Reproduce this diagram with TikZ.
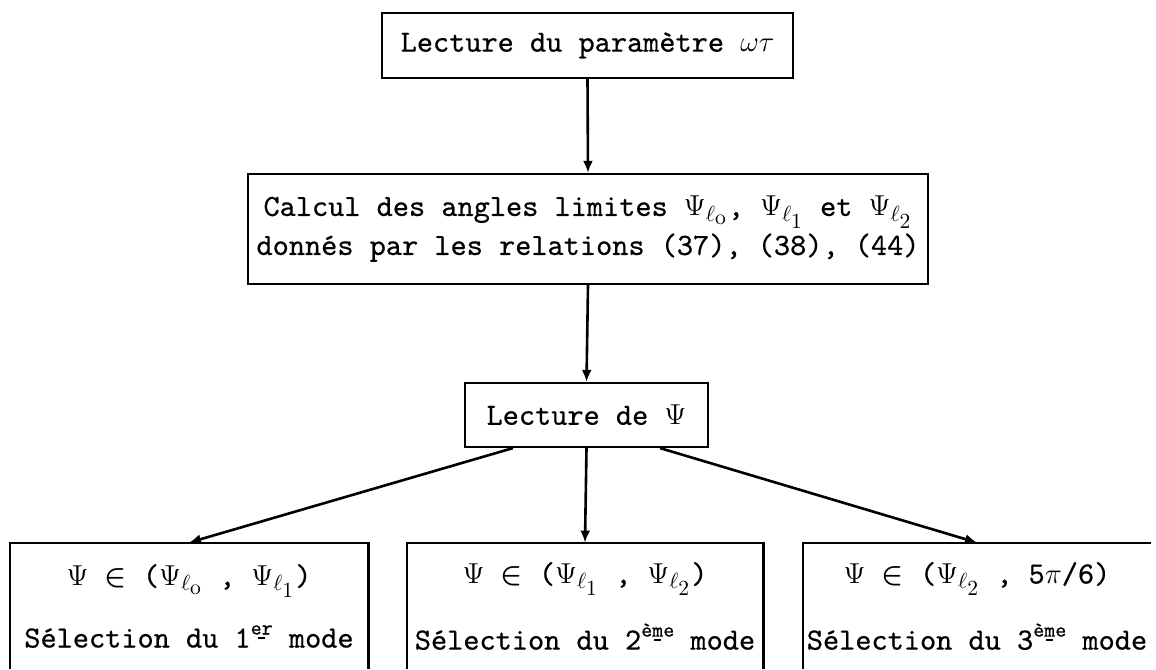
\documentclass[tikz,border=0pt]{standalone}
\usepackage{fontspec}
\setmonofont{lmmono10-regular}[Extension=.otf, FakeBold=0.5]
\usetikzlibrary{arrows.meta,calc}
\newcommand\ordi[1]{\raisebox{6.5pt}{\fontsize{10.5pt}{10.5pt}\selectfont\oalign{#1\cr\hidewidth\rule{3.5pt}{0.8pt}\hidewidth\cr}}}
\newcommand\Pl[1]{$\Psi_{\ell_{\scriptstyle\mathrm{#1}}}$}
\tikzset{
  boxline/.style={line width=1.1pt},
  flowbox/.style={draw, boxline, inner sep=0pt, align=center},
  openbox/.style={inner sep=0pt, align=center, minimum height=63pt},
  flowarrow/.style={line width=1.3pt, -{Latex[length=6pt,width=5pt]}}
}
\begin{document}
\begin{tikzpicture}[x=0.5pt, y=-0.5pt, font=\ttfamily\fontsize{15.4pt}{18pt}\selectfont]
\useasboundingbox (0,0) rectangle (1156,669);
\node[flowbox, minimum width=205.5pt, minimum height=32.5pt] (b1) at (587.5,45.5) {Lecture du paramètre $\omega\tau$};
\node[flowbox, minimum width=340pt, minimum height=55pt, font=\ttfamily\fontsize{15.4pt}{19.5pt}\selectfont] (b2) at (588,229)
  {Calcul des angles limites \Pl{o}, \Pl{1} et \Pl{2}\\donnés par les relations (37), (38), (44)};
\node[flowbox, minimum width=121.5pt, minimum height=32pt] (b3) at (586.5,415) {Lecture de $\Psi$};
\node[openbox, minimum width=179pt] (b4) at (189,606)
  {$\Psi$ {\boldmath$\in$} (\Pl{o} , \Pl{1})\\[13pt]Sélection du 1\ordi{er} mode};
\node[openbox, minimum width=178pt] (b5) at (585,606)
  {$\Psi$ {\boldmath$\in$} (\Pl{1} , \Pl{2})\\[13pt]Sélection du 2\ordi{ème} mode};
\node[openbox, minimum width=174pt] (b6) at (977,606)
  {$\Psi$ {\boldmath$\in$} (\Pl{2} , 5$\pi$/6)\\[13pt]Sélection du 3\ordi{ème} mode};
\draw[boxline] (b4.south west) -- (b4.north west) -- (b4.north east) -- (b4.south east);
\draw[boxline] (b5.south west) -- (b5.north west) -- (b5.north east) -- (b5.south east);
\draw[boxline] (b6.south west) -- (b6.north west) -- (b6.north east);
\draw[flowarrow] (b1.south) -- (b2.north);
\draw[flowarrow] (b2.south) -- (b3.north);
\draw[flowarrow] ($(b3.south west)!0.2!(b3.south east)$) -- (b4.north);
\draw[flowarrow] (b3.south) -- (b5.north);
\draw[flowarrow] ($(b3.south west)!0.8!(b3.south east)$) -- (b6.north);
\end{tikzpicture}
\end{document}
